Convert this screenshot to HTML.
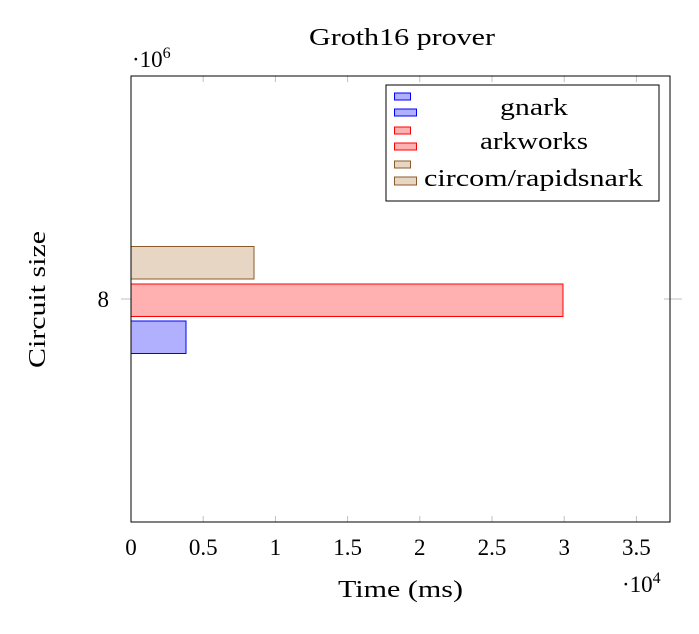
<!DOCTYPE html>
<html><head><style>body{margin:0;background:#fff}</style></head><body>
<svg width="699" height="629" xmlns="http://www.w3.org/2000/svg" font-family="Liberation Serif, serif" fill="#000">
<rect width="699" height="629" fill="#fff"/>
<text x="309" y="45" font-size="24" textLength="186" lengthAdjust="spacingAndGlyphs">Groth16 prover</text>
<text x="132" y="67" font-size="23">·10<tspan font-size="16" dy="-9">6</tspan></text>
<g stroke="#c0c0c0" stroke-width="1">
<line x1="203.2" y1="76" x2="203.2" y2="82"/><line x1="275.4" y1="76" x2="275.4" y2="82"/><line x1="347.6" y1="76" x2="347.6" y2="82"/><line x1="419.8" y1="76" x2="419.8" y2="82"/><line x1="492" y1="76" x2="492" y2="82"/><line x1="564.2" y1="76" x2="564.2" y2="82"/><line x1="636.4" y1="76" x2="636.4" y2="82"/>
<line x1="203.2" y1="522" x2="203.2" y2="516"/><line x1="275.4" y1="522" x2="275.4" y2="516"/><line x1="347.6" y1="522" x2="347.6" y2="516"/><line x1="419.8" y1="522" x2="419.8" y2="516"/><line x1="492" y1="522" x2="492" y2="516"/><line x1="564.2" y1="522" x2="564.2" y2="516"/><line x1="636.4" y1="522" x2="636.4" y2="516"/>
<line x1="121" y1="299" x2="137" y2="299"/><line x1="664" y1="299" x2="682" y2="299"/>
</g>
<rect x="131" y="246.5" width="123" height="32.5" fill="#e8d6c4" stroke="#8b5a2b" stroke-width="1"/>
<rect x="131" y="284" width="432" height="32.5" fill="#ffb0b0" stroke="#ff0000" stroke-width="1"/>
<rect x="131" y="321" width="55" height="32.5" fill="#b0b0ff" stroke="#0000ff" stroke-width="1"/>
<rect x="131" y="76" width="539" height="446" fill="none" stroke="#000" stroke-width="1"/>
<g font-size="23" text-anchor="middle">
<text x="131" y="555">0</text><text x="203.2" y="555">0.5</text><text x="275.4" y="555">1</text><text x="347.6" y="555">1.5</text><text x="419.8" y="555">2</text><text x="492" y="555">2.5</text><text x="564.2" y="555">3</text><text x="636.4" y="555">3.5</text>
</g>
<text x="109" y="307" font-size="23" text-anchor="end">8</text>
<text x="622" y="592" font-size="23">·10<tspan font-size="16" dy="-9">4</tspan></text>
<text x="338" y="597" font-size="24" textLength="125" lengthAdjust="spacingAndGlyphs">Time (ms)</text>
<text transform="translate(45,368) rotate(-90)" font-size="24" textLength="137" lengthAdjust="spacingAndGlyphs">Circuit size</text>
<rect x="386" y="85" width="273" height="116" fill="#fff" stroke="#000" stroke-width="1"/>
<rect x="394.5" y="93" width="16" height="7" fill="#b0b0ff" stroke="#0000ff"/>
<rect x="394.5" y="109" width="22" height="7" fill="#b0b0ff" stroke="#0000ff"/>
<rect x="394.5" y="127" width="16" height="7" fill="#ffb0b0" stroke="#ff0000"/>
<rect x="394.5" y="143" width="22" height="7" fill="#ffb0b0" stroke="#ff0000"/>
<rect x="394.5" y="161" width="16" height="7" fill="#e8d6c4" stroke="#8b5a2b"/>
<rect x="394.5" y="177" width="22" height="8" fill="#e8d6c4" stroke="#8b5a2b"/>
<g font-size="24">
<text x="500" y="115" textLength="68" lengthAdjust="spacingAndGlyphs">gnark</text>
<text x="480" y="149" textLength="108" lengthAdjust="spacingAndGlyphs">arkworks</text>
<text x="424" y="186" textLength="219" lengthAdjust="spacingAndGlyphs">circom/rapidsnark</text>
</g>
</svg>
</body></html>
